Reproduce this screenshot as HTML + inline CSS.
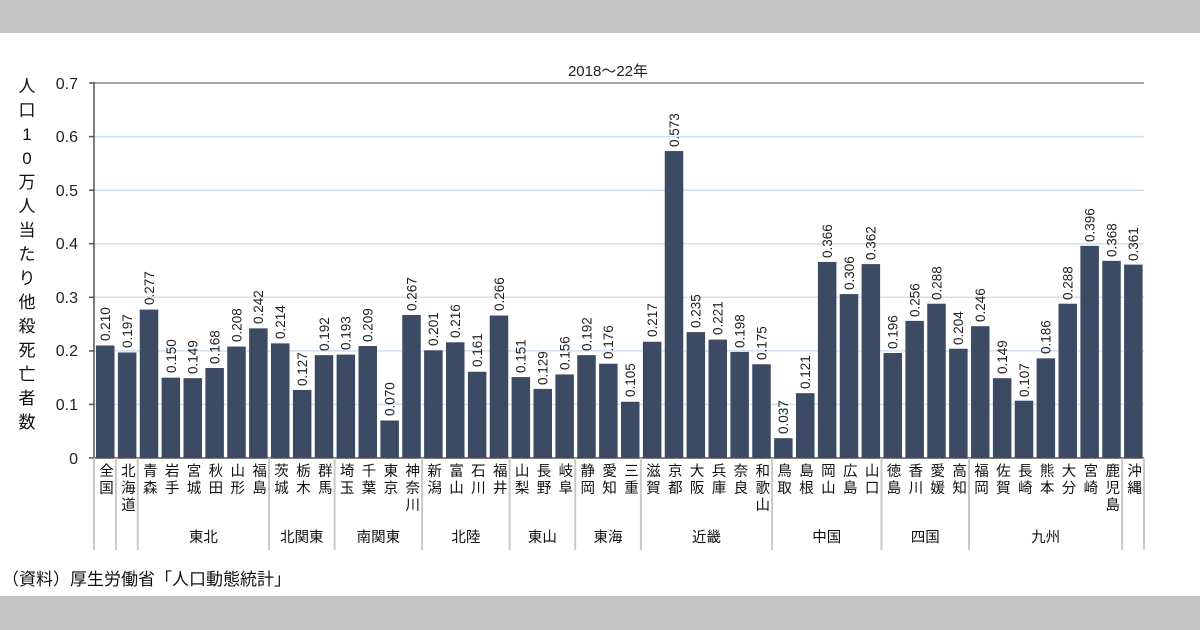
<!DOCTYPE html><html><head><meta charset="utf-8"><style>
body{margin:0;width:1200px;height:630px;overflow:hidden;background:#fff;font-family:"Liberation Sans","Noto Sans CJK JP",sans-serif}
.top{position:absolute;left:0;top:0;width:1200px;height:33px;background:#c4c4c4}
.bot{position:absolute;left:0;top:596px;width:1200px;height:34px;background:#c4c4c4}
svg{position:absolute;left:0;top:0}
.v{font-size:13.5px;fill:#222}
.c{font-size:14.5px;fill:#111;writing-mode:tb;letter-spacing:2.5px}
</style></head><body>
<div class="top"></div><div class="bot"></div>
<svg width="1200" height="630" font-family="Liberation Sans, Noto Sans CJK JP, sans-serif">
<g stroke="#cfe0ee" stroke-width="1.5">
<line x1="94" x2="1144" y1="404.4" y2="404.4"/><line x1="94" x2="1144" y1="350.9" y2="350.9"/><line x1="94" x2="1144" y1="297.3" y2="297.3"/><line x1="94" x2="1144" y1="243.7" y2="243.7"/><line x1="94" x2="1144" y1="190.2" y2="190.2"/><line x1="94" x2="1144" y1="136.6" y2="136.6"/>
</g>
<line x1="94" x2="1144" y1="83" y2="83" stroke="#888" stroke-width="1.5"/>
<g stroke="#555" stroke-width="1.5"><line x1="94" x2="94" y1="82" y2="460"/>
<line x1="89" x2="94" y1="83" y2="83"/><line x1="89" x2="94" y1="136.6" y2="136.6"/><line x1="89" x2="94" y1="190.2" y2="190.2"/><line x1="89" x2="94" y1="243.7" y2="243.7"/><line x1="89" x2="94" y1="297.3" y2="297.3"/><line x1="89" x2="94" y1="350.9" y2="350.9"/><line x1="89" x2="94" y1="404.4" y2="404.4"/><line x1="89" x2="1144" y1="458" y2="458"/></g>
<g font-size="16" fill="#222" text-anchor="end">
<text x="78" y="89">0.7</text><text x="78" y="142">0.6</text><text x="78" y="196">0.5</text><text x="78" y="249">0.4</text><text x="78" y="303">0.3</text><text x="78" y="356">0.2</text><text x="78" y="410">0.1</text><text x="78" y="464">0</text>
</g>
<text x="608" y="76" font-size="15" text-anchor="middle" fill="#222">2018～22年</text>
<g font-size="17" fill="#111" text-anchor="middle">
<text x="27" y="92">人</text><text x="27" y="116">口</text><text x="27" y="140">1</text><text x="27" y="164">0</text><text x="27" y="188">万</text><text x="27" y="212">人</text><text x="27" y="236">当</text><text x="27" y="260">た</text><text x="27" y="284">り</text><text x="27" y="308">他</text><text x="27" y="332">殺</text><text x="27" y="356">死</text><text x="27" y="380">亡</text><text x="27" y="404">者</text><text x="27" y="428">数</text>
</g>
<g transform="translate(0,458) scale(1,-535.7)" fill="#3c4a64">
<rect x="96" width="18.5" y="0" height="0.210"/><rect x="117.9" width="18.5" height="0.197"/><rect x="139.75" width="18.5" height="0.277"/><rect x="161.6" width="18.5" height="0.150"/><rect x="183.5" width="18.5" height="0.149"/><rect x="205.4" width="18.5" height="0.168"/><rect x="227.25" width="18.5" height="0.208"/><rect x="249.1" width="18.5" height="0.242"/><rect x="271" width="18.5" height="0.214"/><rect x="292.9" width="18.5" height="0.127"/><rect x="314.75" width="18.5" height="0.192"/><rect x="336.6" width="18.5" height="0.193"/><rect x="358.5" width="18.5" height="0.209"/><rect x="380.4" width="18.5" height="0.070"/><rect x="402.25" width="18.5" height="0.267"/><rect x="424.1" width="18.5" height="0.201"/><rect x="446" width="18.5" height="0.216"/><rect x="467.9" width="18.5" height="0.161"/><rect x="489.75" width="18.5" height="0.266"/><rect x="511.6" width="18.5" height="0.151"/><rect x="533.5" width="18.5" height="0.129"/><rect x="555.4" width="18.5" height="0.156"/><rect x="577.25" width="18.5" height="0.192"/><rect x="599.1" width="18.5" height="0.176"/><rect x="621" width="18.5" height="0.105"/><rect x="642.9" width="18.5" height="0.217"/><rect x="664.75" width="18.5" height="0.573"/><rect x="686.6" width="18.5" height="0.235"/><rect x="708.5" width="18.5" height="0.221"/><rect x="730.4" width="18.5" height="0.198"/><rect x="752.25" width="18.5" height="0.175"/><rect x="774.1" width="18.5" height="0.037"/><rect x="796" width="18.5" height="0.121"/><rect x="817.9" width="18.5" height="0.366"/><rect x="839.75" width="18.5" height="0.306"/><rect x="861.6" width="18.5" height="0.362"/><rect x="883.5" width="18.5" height="0.196"/><rect x="905.4" width="18.5" height="0.256"/><rect x="927.25" width="18.5" height="0.288"/><rect x="949.1" width="18.5" height="0.204"/><rect x="971" width="18.5" height="0.246"/><rect x="992.9" width="18.5" height="0.149"/><rect x="1014.75" width="18.5" height="0.107"/><rect x="1036.6" width="18.5" height="0.186"/><rect x="1058.5" width="18.5" height="0.288"/><rect x="1080.4" width="18.5" height="0.396"/><rect x="1102.25" width="18.5" height="0.368"/><rect x="1124.1" width="18.5" height="0.361"/>
</g>
<g class="v">
<text transform="translate(110,341) rotate(-90)">0.210</text>
<text transform="translate(132,348) rotate(-90)">0.197</text>
<text transform="translate(154,305) rotate(-90)">0.277</text>
<text transform="translate(176,373) rotate(-90)">0.150</text>
<text transform="translate(197.5,374) rotate(-90)">0.149</text>
<text transform="translate(219.4,364) rotate(-90)">0.168</text>
<text transform="translate(241.25,342) rotate(-90)">0.208</text>
<text transform="translate(263.1,324) rotate(-90)">0.242</text>
<text transform="translate(285,339) rotate(-90)">0.214</text>
<text transform="translate(306.9,386) rotate(-90)">0.127</text>
<text transform="translate(328.75,351) rotate(-90)">0.192</text>
<text transform="translate(350.6,350) rotate(-90)">0.193</text>
<text transform="translate(372.5,342) rotate(-90)">0.209</text>
<text transform="translate(394.4,416) rotate(-90)">0.070</text>
<text transform="translate(416.25,311) rotate(-90)">0.267</text>
<text transform="translate(438.1,346) rotate(-90)">0.201</text>
<text transform="translate(460,338) rotate(-90)">0.216</text>
<text transform="translate(481.9,367) rotate(-90)">0.161</text>
<text transform="translate(503.75,311) rotate(-90)">0.266</text>
<text transform="translate(525.6,373) rotate(-90)">0.151</text>
<text transform="translate(547.5,385) rotate(-90)">0.129</text>
<text transform="translate(569.4,370) rotate(-90)">0.156</text>
<text transform="translate(591.25,351) rotate(-90)">0.192</text>
<text transform="translate(613.1,359) rotate(-90)">0.176</text>
<text transform="translate(635,397) rotate(-90)">0.105</text>
<text transform="translate(656.9,337) rotate(-90)">0.217</text>
<text transform="translate(678.75,147) rotate(-90)">0.573</text>
<text transform="translate(700.6,328) rotate(-90)">0.235</text>
<text transform="translate(722.5,335) rotate(-90)">0.221</text>
<text transform="translate(744.4,348) rotate(-90)">0.198</text>
<text transform="translate(766.25,360) rotate(-90)">0.175</text>
<text transform="translate(788.1,434) rotate(-90)">0.037</text>
<text transform="translate(810,389) rotate(-90)">0.121</text>
<text transform="translate(831.9,258) rotate(-90)">0.366</text>
<text transform="translate(853.75,290) rotate(-90)">0.306</text>
<text transform="translate(875.6,260) rotate(-90)">0.362</text>
<text transform="translate(897.5,349) rotate(-90)">0.196</text>
<text transform="translate(919.4,317) rotate(-90)">0.256</text>
<text transform="translate(941.25,300) rotate(-90)">0.288</text>
<text transform="translate(963.1,345) rotate(-90)">0.204</text>
<text transform="translate(985,322) rotate(-90)">0.246</text>
<text transform="translate(1006.9,374) rotate(-90)">0.149</text>
<text transform="translate(1028.75,397) rotate(-90)">0.107</text>
<text transform="translate(1050.6,354) rotate(-90)">0.186</text>
<text transform="translate(1072.5,300) rotate(-90)">0.288</text>
<text transform="translate(1094.4,242) rotate(-90)">0.396</text>
<text transform="translate(1116.25,257) rotate(-90)">0.368</text>
<text transform="translate(1138.1,261) rotate(-90)">0.361</text>
</g>
<g stroke="#c8c8c8" stroke-width="2">
<line x1="94" x2="94" y1="458" y2="550"/><line x1="115.9" x2="115.9" y1="458" y2="550"/><line x1="137.75" x2="137.75" y1="458" y2="550"/><line x1="269" x2="269" y1="458" y2="550"/><line x1="334.6" x2="334.6" y1="458" y2="550"/><line x1="422.1" x2="422.1" y1="458" y2="550"/><line x1="509.6" x2="509.6" y1="458" y2="550"/><line x1="575.25" x2="575.25" y1="458" y2="550"/><line x1="640.9" x2="640.9" y1="458" y2="550"/><line x1="772.1" x2="772.1" y1="458" y2="550"/><line x1="881.5" x2="881.5" y1="458" y2="550"/><line x1="969" x2="969" y1="458" y2="550"/><line x1="1122.1" x2="1122.1" y1="458" y2="550"/><line x1="1144" x2="1144" y1="458" y2="550"/>
</g>
<g class="c">
<text x="105" y="463">全国</text><text x="126.9" y="463">北海道</text><text x="148.75" y="463">青森</text><text x="170.6" y="463">岩手</text><text x="192.5" y="463">宮城</text><text x="214.4" y="463">秋田</text><text x="236.25" y="463">山形</text><text x="258.1" y="463">福島</text><text x="280" y="463">茨城</text><text x="301.9" y="463">栃木</text><text x="323.75" y="463">群馬</text><text x="345.6" y="463">埼玉</text><text x="367.5" y="463">千葉</text><text x="389.4" y="463">東京</text><text x="411.25" y="463">神奈川</text><text x="433.1" y="463">新潟</text><text x="455" y="463">富山</text><text x="476.9" y="463">石川</text><text x="498.75" y="463">福井</text><text x="520.6" y="463">山梨</text><text x="542.5" y="463">長野</text><text x="564.4" y="463">岐阜</text><text x="586.25" y="463">静岡</text><text x="608.1" y="463">愛知</text><text x="630" y="463">三重</text><text x="651.9" y="463">滋賀</text><text x="673.75" y="463">京都</text><text x="695.6" y="463">大阪</text><text x="717.5" y="463">兵庫</text><text x="739.4" y="463">奈良</text><text x="761.25" y="463">和歌山</text><text x="783.1" y="463">鳥取</text><text x="805" y="463">島根</text><text x="826.9" y="463">岡山</text><text x="848.75" y="463">広島</text><text x="870.6" y="463">山口</text><text x="892.5" y="463">徳島</text><text x="914.4" y="463">香川</text><text x="936.25" y="463">愛媛</text><text x="958.1" y="463">高知</text><text x="980" y="463">福岡</text><text x="1001.9" y="463">佐賀</text><text x="1023.75" y="463">長崎</text><text x="1045.6" y="463">熊本</text><text x="1067.5" y="463">大分</text><text x="1089.4" y="463">宮崎</text><text x="1111.25" y="463">鹿児島</text><text x="1133.1" y="463">沖縄</text>
</g>
<g font-size="14.5" fill="#111" text-anchor="middle">
<text x="203.4" y="542">東北</text><text x="301.8" y="542">北関東</text><text x="378.4" y="542">南関東</text><text x="465.9" y="542">北陸</text><text x="542.4" y="542">東山</text><text x="608" y="542">東海</text><text x="706.5" y="542">近畿</text><text x="826.8" y="542">中国</text><text x="925.25" y="542">四国</text><text x="1045.6" y="542">九州</text>
</g>
<text x="2" y="585" font-size="17" fill="#111">（資料）厚生労働省「人口動態統計」</text>
</svg>
</body></html>
